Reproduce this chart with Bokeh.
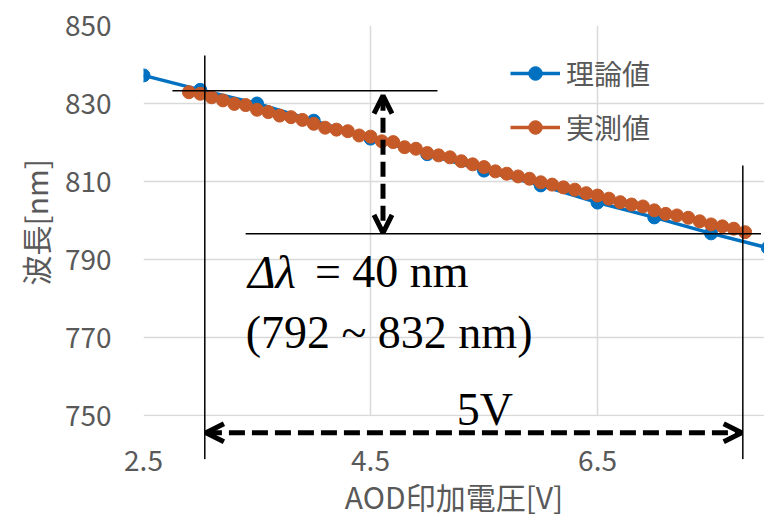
from bokeh.plotting import figure
from bokeh.models import (Range1d, FixedTicker, Arrow, OpenHead, Label, Legend, LegendItem,
                          BoxAnnotation, Title)
from bokeh.embed import file_html
from bokeh.resources import INLINE

# ---- data ----
theory_v = [2.5, 3.0, 3.5, 4.0, 4.5, 5.0, 5.5, 6.0, 6.5, 7.0, 7.5, 8.0]
theory_nm = [837.2, 833.5, 830.0, 825.6, 821.0, 817.0, 812.8, 809.0, 804.6, 800.8, 796.7, 793.0]

meas_v = [2.9, 3.0, 3.1, 3.2, 3.3, 3.4, 3.5, 3.6, 3.7, 3.8,
          3.9, 4.0, 4.1, 4.2, 4.3, 4.4, 4.5, 4.6, 4.7, 4.8,
          4.9, 5.0, 5.1, 5.2, 5.3, 5.4, 5.5, 5.6, 5.7, 5.8,
          5.9, 6.0, 6.1, 6.2, 6.3, 6.4, 6.5, 6.6, 6.7, 6.8,
          6.9, 7.0, 7.1, 7.2, 7.3, 7.4, 7.5, 7.6, 7.7, 7.8]
meas_nm = [832.9, 832.5, 831.6, 830.8, 829.9, 829.6, 828.4, 827.8, 826.9, 826.5,
           825.8, 824.8, 823.8, 823.3, 822.9, 821.8, 821.5, 820.3, 820.1, 818.8,
           818.4, 817.3, 816.7, 816.2, 815.2, 814.4, 813.7, 812.6, 812.0, 811.3,
           810.7, 809.8, 809.2, 808.5, 807.9, 807.0, 806.4, 805.6, 804.7, 804.1,
           803.6, 802.6, 801.7, 801.3, 800.7, 799.8, 799.0, 798.5, 797.9, 797.0]

x_ticks = [2.5, 4.5, 6.5]
y_ticks = [750, 770, 790, 810, 830, 850]
y_axis_min, y_axis_max = 750, 850
series_names = ["理論値", "実測値"]
x_title = "AOD印加電圧[V]"
y_title = "波長[nm]"

# annotation guides (data units)
guide_v = [3.04, 7.78]          # vertical guide lines
guide_v_top = [842.3, 814.1]
guide_v_bottom = 738.8
guide_h = [833.3, 796.6]        # horizontal guide lines
guide_h_from = [2.755, 3.40]
guide_h_to = [5.09, 7.94]
arrow_v_x = 4.61
arrow_v_span = [832.0, 796.8]
arrow_h_y = 745.6
arrow_h_span = [3.05, 7.77]
note_line1_a = "Δλ"
note_line1_b = "= 40 nm"
note_line2 = "(792 ~ 832 nm)"
note_span = "5V"

BLUE = "#0070C0"
ORANGE = "#C55A28"
GRAY_TXT = "#595959"
GRID = "#D9D9D9"
CJK = "Noto Sans CJK JP"

p = figure(width=764, height=520, output_backend="svg", toolbar_location=None,
           x_range=Range1d(2.5, 7.971), y_range=Range1d(738.72, 850),
           min_border_left=143, min_border_right=0, min_border_top=25, min_border_bottom=61)
p.outline_line_color = None
p.background_fill_color = "white"

for ax in (p.xaxis[0], p.yaxis[0]):
    ax.axis_line_color = None
    ax.major_tick_line_color = None
    ax.minor_tick_line_color = None
    ax.major_tick_out = 0
    ax.major_tick_in = 0
    ax.major_label_text_font = CJK
    ax.major_label_text_font_size = "28px"
    ax.major_label_text_color = GRAY_TXT
    ax.axis_label_text_font = CJK
    ax.axis_label_text_font_size = "30px"
    ax.axis_label_text_font_style = "normal"
    ax.axis_label_text_color = GRAY_TXT

p.xaxis.ticker = FixedTicker(ticks=x_ticks)
p.yaxis.ticker = FixedTicker(ticks=y_ticks)
p.yaxis.bounds = (y_axis_min, y_axis_max)
p.xaxis.major_label_overrides = {t: f"{t:.1f}" for t in x_ticks}
p.xaxis.axis_label = x_title
p.yaxis.major_label_standoff = 32
p.xaxis.major_label_standoff = -10
p.xaxis.axis_label_standoff = 0

# y-axis title, centred on the 750-850 value band (the frame extends lower for the notes)
p.add_layout(Title(text=y_title, align="left", offset=174, standoff=10,
                   text_font=CJK, text_font_size="30px", text_font_style="normal",
                   text_color=GRAY_TXT), "left")

p.xgrid.grid_line_color = GRID
p.ygrid.grid_line_color = GRID
p.xgrid.grid_line_width = 1.5
p.ygrid.grid_line_width = 1.5

# keep the grid inside the value range
p.add_layout(BoxAnnotation(top=y_axis_min - 0.2, fill_color="white", fill_alpha=1.0,
                           line_color=None, level="underlay"))

l1 = p.line(theory_v, theory_nm, line_color=BLUE, line_width=3.5)
s1 = p.scatter(theory_v, theory_nm, size=13, fill_color=BLUE, line_color=BLUE)
l2 = p.line(meas_v, meas_nm, line_color=ORANGE, line_width=3.5)
s2 = p.scatter(meas_v, meas_nm, size=13, fill_color=ORANGE, line_color=ORANGE)

legend = Legend(items=[LegendItem(label=series_names[0], renderers=[l1, s1]),
                       LegendItem(label=series_names[1], renderers=[l2, s2])],
                location=(367, 312), padding=0, margin=0, spacing=14,
                glyph_width=50, glyph_height=34, label_height=34, label_standoff=6,
                label_text_font=CJK, label_text_font_size="28px", label_text_color=GRAY_TXT,
                background_fill_alpha=0, border_line_color=None)
p.add_layout(legend)

# guide lines
for gx, gt in zip(guide_v, guide_v_top):
    p.add_layout(Arrow(x_start=gx, y_start=gt, x_end=gx, y_end=guide_v_bottom,
                       start=None, end=None, line_color="black", line_width=1.5))
for gy, g0, g1 in zip(guide_h, guide_h_from, guide_h_to):
    p.add_layout(Arrow(x_start=g0, y_start=gy, x_end=g1, y_end=gy,
                       start=None, end=None, line_color="black", line_width=1.5))

# dashed double arrows
def head():
    return OpenHead(size=18, line_width=5, line_color="black")

p.add_layout(Arrow(x_start=arrow_v_x, y_start=arrow_v_span[0], x_end=arrow_v_x, y_end=arrow_v_span[1],
                   start=head(), end=head(), line_color="black", line_width=5, line_dash="15 7"))
p.add_layout(Arrow(x_start=arrow_h_span[0], y_start=arrow_h_y, x_end=arrow_h_span[1], y_end=arrow_h_y,
                   start=head(), end=head(), line_color="black", line_width=5, line_dash="16 7"))

SERIF = "Liberation Serif"
p.add_layout(Label(x=3.42, y=786.9, text=note_line1_a, text_font=SERIF, text_font_size="47px",
                   text_font_style="italic", text_color="black", text_baseline="alphabetic"))
p.add_layout(Label(x=4.01, y=786.9, text=note_line1_b, text_font=SERIF, text_font_size="46px",
                   text_color="black", text_baseline="alphabetic"))
p.add_layout(Label(x=3.40, y=771.3, text=note_line2, text_font=SERIF, text_font_size="46px",
                   text_color="black", text_baseline="alphabetic"))
p.add_layout(Label(x=5.26, y=751.5, text=note_span, text_font=SERIF, text_font_size="46px",
                   text_color="black", text_baseline="alphabetic"))

open("out.html", "w").write(file_html(p, INLINE))
